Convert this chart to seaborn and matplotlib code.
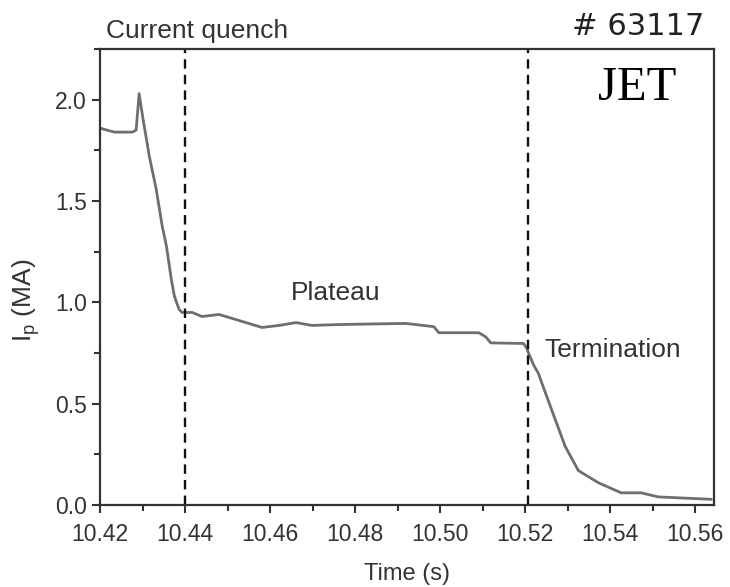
import matplotlib
matplotlib.use("Agg")
import matplotlib.pyplot as plt
import seaborn as sns
import pandas as pd
from matplotlib.ticker import MultipleLocator

time_s = [10.4200, 10.4216, 10.4234, 10.4276, 10.4285, 10.4292, 10.4300, 10.4316,
          10.4332, 10.4346, 10.4356, 10.4368, 10.4375, 10.4386, 10.4393, 10.4417,
          10.4440, 10.4480, 10.4504, 10.4581, 10.4621, 10.4661, 10.4699, 10.4755,
          10.4832, 10.4919, 10.4985, 10.4997, 10.5091, 10.5107, 10.5119, 10.5196,
          10.5203, 10.5208, 10.5220, 10.5231, 10.5243, 10.5271, 10.5294, 10.5325,
          10.5372, 10.5426, 10.5473, 10.5513, 10.5638]
current_MA = [1.86, 1.85, 1.84, 1.84, 1.85, 2.03, 1.92, 1.72,
              1.56, 1.38, 1.28, 1.11, 1.03, 0.965, 0.95, 0.95,
              0.93, 0.94, 0.925, 0.876, 0.886, 0.90, 0.886, 0.89,
              0.893, 0.896, 0.88, 0.85, 0.85, 0.83, 0.80, 0.797,
              0.777, 0.75, 0.69, 0.65, 0.58, 0.42, 0.29, 0.17,
              0.11, 0.06, 0.06, 0.04, 0.028]
phase_bounds = [10.44, 10.5206]
x_ticks = [10.42, 10.44, 10.46, 10.48, 10.50, 10.52, 10.54, 10.56]
y_ticks = [0.0, 0.5, 1.0, 1.5, 2.0]

sns.set_style("ticks")
plt.rcParams['font.family'] = ['Liberation Sans', 'DejaVu Sans']
plt.rcParams['mathtext.fontset'] = 'custom'
plt.rcParams['mathtext.rm'] = 'Liberation Sans'
plt.rcParams['mathtext.it'] = 'Liberation Sans'

df = pd.DataFrame({"t": time_s, "I": current_MA})

fig = plt.figure(figsize=(7.3, 5.87), dpi=100)
ax = fig.add_axes([0.137, 0.1397, 0.841, 0.7768])
sns.lineplot(data=df, x="t", y="I", ax=ax, color="#6e6e6e", linewidth=2.0,
             sort=False, estimator=None)
for b in phase_bounds:
    ax.axvline(b, color="#111111", linestyle=(0, (4, 2.6)), linewidth=1.7)

ax.set_xlim(10.42, 10.5644)
ax.set_ylim(0.0, 2.25)
ax.set_xticks(x_ticks)
ax.set_xticklabels([f"{v:.2f}" for v in x_ticks])
ax.set_yticks(y_ticks)
ax.set_yticklabels([f"{v:.1f}" for v in y_ticks])
ax.xaxis.set_minor_locator(MultipleLocator(0.01))
ax.yaxis.set_minor_locator(MultipleLocator(0.25))
ax.tick_params(axis="both", which="major", direction="out", length=6, width=1.5,
               labelsize=16.5, colors="#333333", labelcolor="#333333")
ax.tick_params(axis="x", which="major", pad=7)
ax.tick_params(axis="both", which="minor", direction="out", length=4, width=1.5,
               colors="#333333")
for s in ax.spines.values():
    s.set_linewidth(1.6)
    s.set_color("#333333")

ax.set_xlabel("Time (s)", fontsize=17, color="#333333", labelpad=12)
ax.set_ylabel(r"I$_{\mathrm{p}}$ (MA)", fontsize=19, color="#333333")
ax.yaxis.set_label_coords(-0.095, 0.45)

ax.text(10.4213, 2.34, "Current quench", fontsize=19, color="#333333",
        ha="left", va="center", clip_on=False)
ax.text(0.985, 1.05, "# 63117", fontsize=22, family="DejaVu Sans",
        color="#222222", ha="right", va="center", transform=ax.transAxes,
        clip_on=False)
ax.text(10.5372, 2.06, "JET", fontsize=35, family="Liberation Serif",
        color="black", ha="left", va="center")
ax.text(10.4649, 1.045, "Plateau", fontsize=19, color="#333333", ha="left",
        va="center")
ax.text(10.5245, 0.767, "Termination", fontsize=19, color="#333333",
        ha="left", va="center")

fig.savefig("out.png", dpi=100)
